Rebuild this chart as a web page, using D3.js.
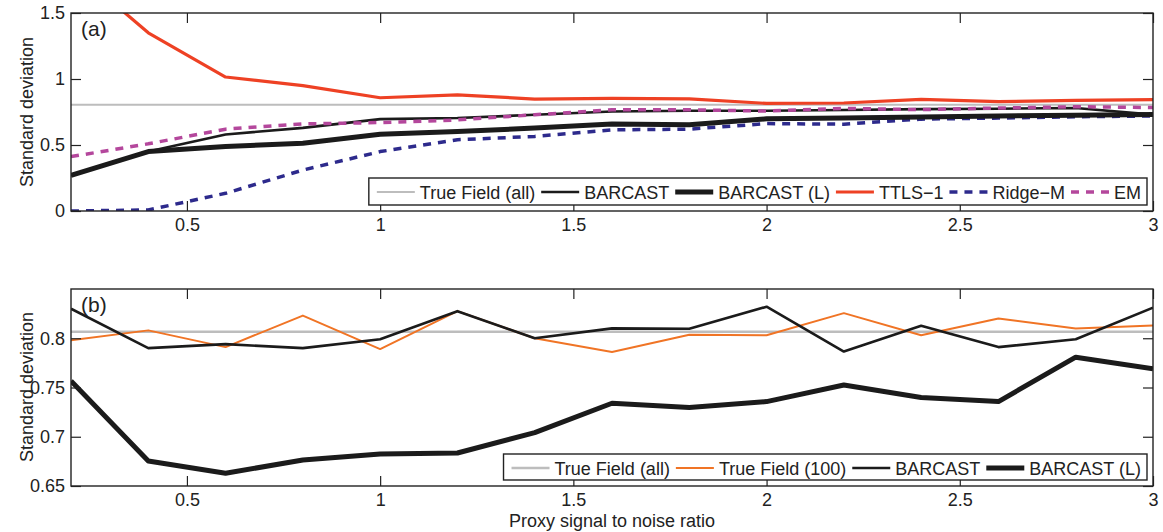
<!DOCTYPE html>
<html><head><meta charset="utf-8">
<script src="https://cdn.jsdelivr.net/npm/d3@7"></script>
<style>
body{margin:0;background:#fff;}
text{font-family:"Liberation Sans",Arial,Helvetica,sans-serif;fill:#222;}
</style></head>
<body><svg id="c" width="1163" height="532"></svg>
<script>
const snr = [0.2,0.4,0.6,0.8,1.0,1.2,1.4,1.6,1.8,2.0,2.2,2.4,2.6,2.8,3.0];
const xTicks = [0.5,1,1.5,2,2.5,3];

// Panel (a)
const aTrueAll  = [0.805,0.805,0.805,0.805,0.805,0.805,0.805,0.805,0.805,0.805,0.805,0.805,0.805,0.805,0.805];
const aBarcast  = [0.27,0.45,0.58,0.63,0.696,0.704,0.729,0.754,0.759,0.76,0.765,0.772,0.775,0.78,0.73];
const aBarcastL = [0.27,0.45,0.488,0.514,0.582,0.602,0.628,0.66,0.653,0.698,0.705,0.712,0.72,0.726,0.732];
const aTTLS     = [1.85,1.35,1.015,0.95,0.858,0.88,0.848,0.853,0.85,0.815,0.818,0.845,0.828,0.838,0.843];
const aRidge    = [0.0,0.008,0.134,0.31,0.45,0.54,0.565,0.615,0.62,0.662,0.658,0.696,0.704,0.714,0.72];
const aEM       = [0.412,0.509,0.62,0.66,0.67,0.69,0.729,0.767,0.767,0.757,0.777,0.768,0.78,0.79,0.784];
const aYTicks = [0,0.5,1,1.5];

// Panel (b)
const bTrueAll  = [0.8065,0.8065,0.8065,0.8065,0.8065,0.8065,0.8065,0.8065,0.8065,0.8065,0.8065,0.8065,0.8065,0.8065,0.8065];
const bTrue100  = [0.798,0.808,0.791,0.823,0.789,0.8275,0.800,0.786,0.8035,0.803,0.8255,0.803,0.820,0.810,0.813];
const bBarcast  = [0.830,0.790,0.794,0.790,0.799,0.8275,0.800,0.810,0.8096,0.832,0.7865,0.8126,0.791,0.799,0.831];
const bBarcastL = [0.7567,0.6754,0.6629,0.6764,0.6825,0.6835,0.7042,0.734,0.7296,0.7357,0.7526,0.7398,0.7357,0.7808,0.769];
const bYTicks = [0.65,0.7,0.75,0.8];

const C = {gray:"#bdbdbd", black:"#1b1b1b", red:"#ee4124", blue:"#2d2a8c", mag:"#b4479c", orange:"#f07425"};

const svg = d3.select("#c");
const L = 71, R = 1153;
const x = d3.scaleLinear().domain([0.2,3]).range([L,R]);
const FS = 18;

function panel(opts){
  const y = d3.scaleLinear().domain(opts.ydom).range([opts.bottom, opts.top]);
  const g = svg.append("g");
  const cid = "clip"+opts.id;
  svg.append("clipPath").attr("id",cid).append("rect")
    .attr("x",L).attr("y",opts.top).attr("width",R-L).attr("height",opts.bottom-opts.top);
  const line = d3.line().x((d,i)=>x(snr[i])).y(d=>y(d));
  const lg = g.append("g").attr("clip-path",`url(#${cid})`);
  opts.series.forEach(s=>{
    lg.append("path").datum(s.v).attr("d",line).attr("fill","none")
      .attr("stroke",s.c).attr("stroke-width",s.w)
      .attr("stroke-dasharray",s.dash||null)
      .attr("stroke-linejoin","round");
  });
  // axes (MATLAB style box with inward ticks)
  const tk = 10;
  const axB = g.append("g").attr("transform",`translate(0,${opts.bottom})`)
    .call(d3.axisBottom(x).tickValues(xTicks).tickSize(-tk).tickPadding(7).tickFormat(d3.format("")));
  const axT = g.append("g").attr("transform",`translate(0,${opts.top})`)
    .call(d3.axisTop(x).tickValues(xTicks).tickSize(-tk).tickFormat(""));
  const axL = g.append("g").attr("transform",`translate(${L},0)`)
    .call(d3.axisLeft(y).tickValues(opts.yticks).tickSize(-tk).tickPadding(6).tickFormat(d3.format("")));
  const axR = g.append("g").attr("transform",`translate(${R},0)`)
    .call(d3.axisRight(y).tickValues(opts.yticks).tickSize(-tk).tickFormat(""));
  [axB,axT,axL,axR].forEach(a=>{
    a.select(".domain").remove();
    a.selectAll(".tick line").attr("stroke","#222").attr("stroke-width",1.2);
    a.selectAll("text").attr("font-size",FS).attr("fill","#222")
      .style("font-family",'"Liberation Sans",Arial,sans-serif');
  });
  g.append("rect").attr("x",L).attr("y",opts.top).attr("width",R-L).attr("height",opts.bottom-opts.top)
    .attr("fill","none").attr("stroke","#222").attr("stroke-width",1.4);
  g.append("text").attr("x",81).attr("y",opts.top+23).attr("font-size",21).text(opts.label);
  g.append("text").attr("transform",`translate(33,${opts.ylabY}) rotate(-90)`)
    .attr("text-anchor","middle").attr("font-size",18).text("Standard deviation");
  // legend
  const lgG = g.append("g");
  const box = lgG.append("rect").attr("fill","#fff").attr("stroke","#222").attr("stroke-width",1.4);
  let cx = 8;
  const cy = 14;
  opts.legend.forEach(s=>{
    lgG.append("line").attr("x1",cx).attr("x2",cx+38).attr("y1",cy).attr("y2",cy)
      .attr("stroke",s.c).attr("stroke-width",s.w).attr("stroke-dasharray",s.dash||null);
    const t = lgG.append("text").attr("x",cx+43).attr("y",cy+6.5).attr("font-size",FS).text(s.name);
    cx = cx + 43 + t.node().getComputedTextLength() + 6;
  });
  const bw = cx;
  box.attr("x",0).attr("y",0).attr("width",bw).attr("height",opts.legH);
  lgG.attr("transform",`translate(${1147-bw},${opts.legY})`);
}

panel({id:"a", top:13, bottom:211, ydom:[0,1.5], yticks:aYTicks, label:"(a)", ylabY:112,
  legY:178, legH:27,
  series:[
    {v:aTrueAll,c:C.gray,w:2.2},
    {v:aRidge,c:C.blue,w:3.5,dash:"8,7"},
    {v:aBarcastL,c:C.black,w:5},
    {v:aBarcast,c:C.black,w:2.6},
    {v:aEM,c:C.mag,w:3.5,dash:"8,7"},
    {v:aTTLS,c:C.red,w:3.2}
  ],
  legend:[
    {name:"True Field (all)",c:C.gray,w:2.2},
    {name:"BARCAST",c:C.black,w:2.6},
    {name:"BARCAST (L)",c:C.black,w:5},
    {name:"TTLS\u22121",c:C.red,w:3.2},
    {name:"Ridge\u2212M",c:C.blue,w:3.5,dash:"8,7"},
    {name:"EM",c:C.mag,w:3.5,dash:"8,7"}
  ]});

panel({id:"b", top:289, bottom:486, ydom:[0.65,0.85], yticks:bYTicks, label:"(b)", ylabY:387,
  legY:454, legH:26,
  series:[
    {v:bTrueAll,c:C.gray,w:2.5},
    {v:bTrue100,c:C.orange,w:2},
    {v:bBarcast,c:C.black,w:2.6},
    {v:bBarcastL,c:C.black,w:5}
  ],
  legend:[
    {name:"True Field (all)",c:C.gray,w:2.5},
    {name:"True Field (100)",c:C.orange,w:2},
    {name:"BARCAST",c:C.black,w:2.6},
    {name:"BARCAST (L)",c:C.black,w:5}
  ]});

svg.append("text").attr("x",612).attr("y",527).attr("text-anchor","middle").attr("font-size",18)
  .text("Proxy signal to noise ratio");
</script></body></html>
